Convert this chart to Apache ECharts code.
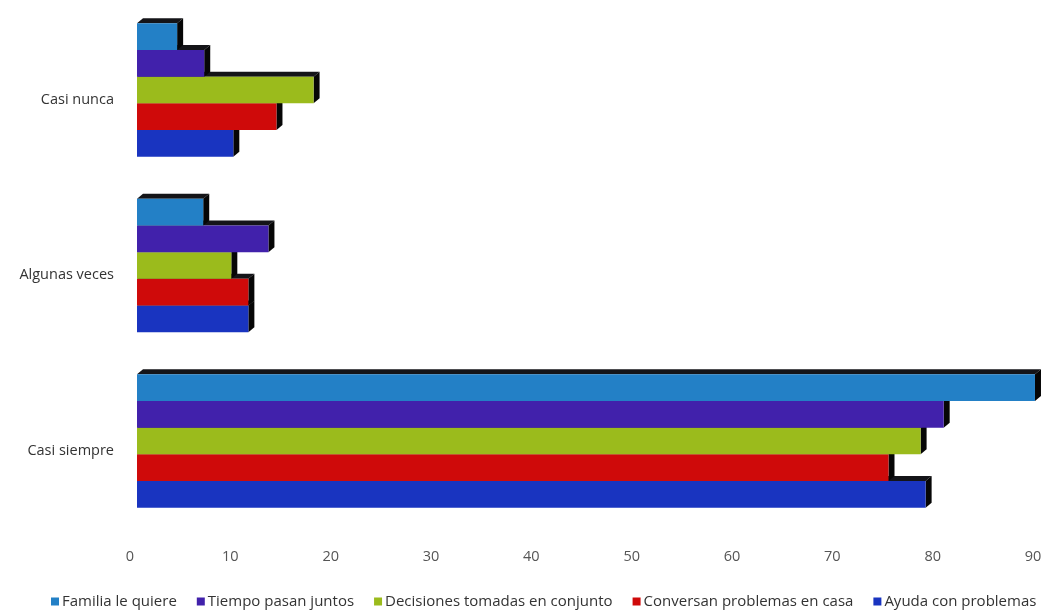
<!DOCTYPE html>
<html>
<head>
<meta charset="utf-8">
<script src="https://cdn.jsdelivr.net/npm/echarts@6/dist/echarts.min.js"></script>
<style>
  html, body { margin: 0; padding: 0; background: #fff; }
  #chart { width: 1045px; height: 610px; }
</style>
</head>
<body>
<div id="chart"></div>
<script>
// Response categories, top to bottom
const categories = ['Casi nunca', 'Algunas veces', 'Casi siempre'];

// Series names (legend order)
const seriesNames = [
  'Familia le quiere',
  'Tiempo pasan juntos',
  'Decisiones tomadas en conjunto',
  'Conversan problemas en casa',
  'Ayuda con problemas'
];

// Percentages per category (Casi nunca, Algunas veces, Casi siempre)
const familiaLeQuiere   = [4.0, 6.6, 89.5];
const tiempoPasanJuntos = [6.7, 13.1, 80.4];
const decisionesTomadas = [17.6, 9.4, 78.1];
const conversanProblemas = [13.9, 11.1, 74.9];
const ayudaConProblemas = [9.6, 11.1, 78.6];

// Value axis ticks
const xTickValues = [0, 10, 20, 30, 40, 50, 60, 70, 80, 90];

const seriesValues = [
  familiaLeQuiere, tiempoPasanJuntos, decisionesTomadas,
  conversanProblemas, ayudaConProblemas
];
const colors = ['#2380c6', '#4121ab', '#9bbb1c', '#cf0a0a', '#1934c0'];

const GROUP_FRAC = 0.76;             // share of the band used by the bar group
const BAR_FRAC = GROUP_FRAC / seriesValues.length;
const DEPTH_X = 6, DEPTH_Y = 5;      // extrusion of the pseudo-3D bars

function makeRenderer(idx, color) {
  return function (params, api) {
    const v = api.value(0);
    const c = api.value(1);
    const end = api.coord([v, c]);
    const start = api.coord([0, c]);
    const band = api.size([0, 1])[1];
    const barH = band * BAR_FRAC;
    const top = end[1] - band * GROUP_FRAC / 2 + idx * barH;
    const bottom = top + barH;
    const x0 = start[0], x1 = end[0];
    return {
      type: 'group',
      children: [
        { // top face
          type: 'polygon',
          shape: { points: [[x0, top], [x0 + DEPTH_X, top - DEPTH_Y], [x1 + DEPTH_X, top - DEPTH_Y], [x1, top]] },
          style: { fill: '#141418' }
        },
        { // side face
          type: 'polygon',
          shape: { points: [[x1, top], [x1 + DEPTH_X, top - DEPTH_Y], [x1 + DEPTH_X, bottom - DEPTH_Y], [x1, bottom]] },
          style: { fill: '#060606' }
        },
        { // front face
          type: 'rect',
          shape: { x: x0, y: top, width: x1 - x0, height: barH },
          style: { fill: color }
        }
      ]
    };
  };
}

const series = seriesValues.map((vals, i) => ({
  type: 'custom',
  name: seriesNames[i],
  z: 10 - i,
  itemStyle: { color: colors[i] },
  encode: { x: 0, y: 1 },
  renderItem: makeRenderer(i, colors[i]),
  data: vals.map((v, c) => [v, c])
}));

const chart = echarts.init(document.getElementById('chart'));
chart.setOption({
  animation: false,
  backgroundColor: '#ffffff',
  textStyle: { fontFamily: 'Open Sans' },
  grid: { left: 137, right: 5, top: 2.25, bottom: 81.25 },
  xAxis: {
    type: 'value',
    min: xTickValues[0],
    max: xTickValues[xTickValues.length - 1],
    interval: 10,
    axisLine: { show: false },
    axisTick: { show: false },
    splitLine: { show: false },
    axisLabel: {
      color: '#555', fontSize: 14.5, margin: 21,
      padding: [0, 14, 0, 0]
    }
  },
  yAxis: {
    type: 'category',
    inverse: true,
    data: categories,
    axisLine: { show: false },
    axisTick: { show: false },
    axisLabel: {
      color: '#333', fontSize: 14.5, margin: 23,
      verticalAlign: 'top', lineHeight: 19
    }
  },
  legend: {
    data: seriesNames,
    top: 594,
    left: 51,
    padding: 0,
    icon: 'rect',
    itemWidth: 8,
    itemHeight: 8,
    itemGap: 20,
    textStyle: { color: '#333', fontSize: 15, padding: [0, 0, 0, -2] }
  },
  series: series
});
</script>
</body>
</html>
